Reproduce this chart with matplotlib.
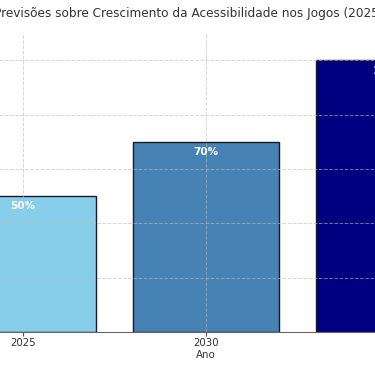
import matplotlib
matplotlib.use("Agg")
import matplotlib.pyplot as plt

anos = ["2025", "2030", "2035"]
valores = [50, 70, 100]
cores = ["skyblue", "steelblue", "navy"]
rotulos = ["50%", "70%", "100%"]
titulo = "Previsões sobre Crescimento da Acessibilidade nos Jogos (2025-2035)"

fig = plt.figure(figsize=(3.75, 3.66), dpi=100)
ax = fig.add_axes([-0.2021, 0.0929, 1.503, 0.8169])

x = list(range(len(anos)))
bars = ax.bar(x, valores, width=0.8, color=cores, edgecolor="#1a1a2a", linewidth=1.0, zorder=1)
ax.set_xlim(-0.54, 2.54)
ax.set_ylim(0, 110)
ax.set_xticks(x)
ax.set_xticklabels(anos, fontsize=7.4, color="#333333")
ax.set_yticks([0, 20, 40, 60, 80, 100])
ax.tick_params(axis="x", length=3, color="#555555", pad=1.5)
ax.set_xlabel("Ano", fontsize=7.4, color="#333333", labelpad=1)
ax.set_title(titulo, fontsize=8.75, color="#333333", pad=11.5)

ax.grid(True, linestyle="--", color="#bbbbbb", alpha=0.6, linewidth=0.7, zorder=3)
ax.set_axisbelow(False)
for s in ["top", "right", "left"]:
    ax.spines[s].set_visible(False)
ax.spines["bottom"].set_color("#666666")

for b, r in zip(bars, rotulos):
    ax.text(b.get_x() + b.get_width() / 2, b.get_height() - 3.8, r,
            ha="center", va="center", color="white", fontsize=7.5, fontweight="bold", zorder=4)

fig.savefig("out.png", dpi=100)
